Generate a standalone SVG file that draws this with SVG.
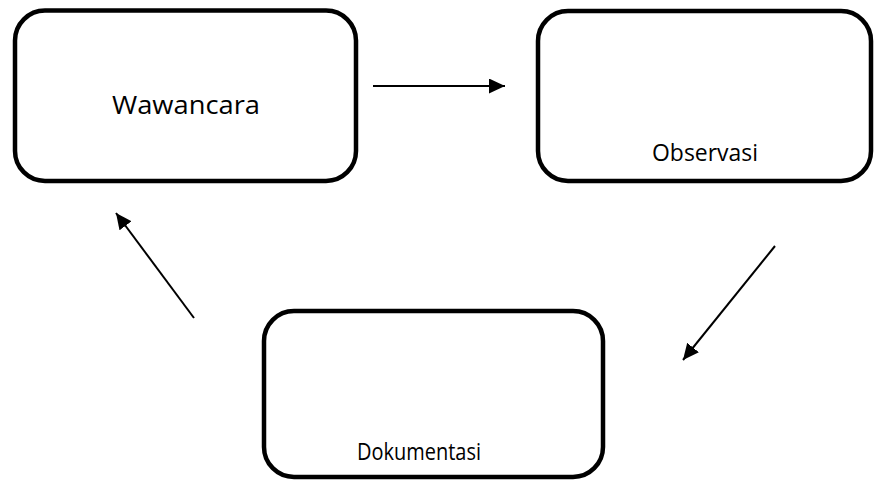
<svg xmlns="http://www.w3.org/2000/svg" width="874" height="482" viewBox="0 0 874 482">
<style>
.box{fill:#fff;stroke:#000;stroke-width:4.5}
.lbl{font-family:"Open Sans","Liberation Sans",sans-serif;fill:#000;text-anchor:middle}
.conn{stroke:#000;stroke-width:2;fill:none;marker-end:url(#ah)}
</style>
<defs>
<marker id="ah" markerUnits="userSpaceOnUse" markerWidth="17" markerHeight="16" refX="16" refY="7.5" orient="auto" viewBox="0 0 17 16">
<path d="M0,0 L16,7.5 L0,15 z" fill="#000"/>
</marker>
</defs>
<rect width="874" height="482" fill="#fff"/>
<g id="wawancara">
<rect class="box" x="15" y="10.5" width="341" height="170.5" rx="30"/>
<text class="lbl" x="186" y="114" font-size="25.5" textLength="148" lengthAdjust="spacingAndGlyphs">Wawancara</text>
</g>
<g id="observasi">
<rect class="box" x="538" y="11" width="333" height="170" rx="30"/>
<text class="lbl" x="705" y="161" font-size="24" textLength="106" lengthAdjust="spacingAndGlyphs">Observasi</text>
</g>
<g id="dokumentasi">
<rect class="box" x="264" y="311" width="339" height="166" rx="30"/>
<text class="lbl" x="419" y="460" font-size="23" textLength="124" lengthAdjust="spacingAndGlyphs">Dokumentasi</text>
</g>
<g id="connectors">
<line class="conn" x1="373" y1="86" x2="505" y2="86"/>
<line class="conn" x1="775" y1="246" x2="683" y2="360"/>
<line class="conn" x1="194" y1="318" x2="116" y2="213"/>
</g>
</svg>
